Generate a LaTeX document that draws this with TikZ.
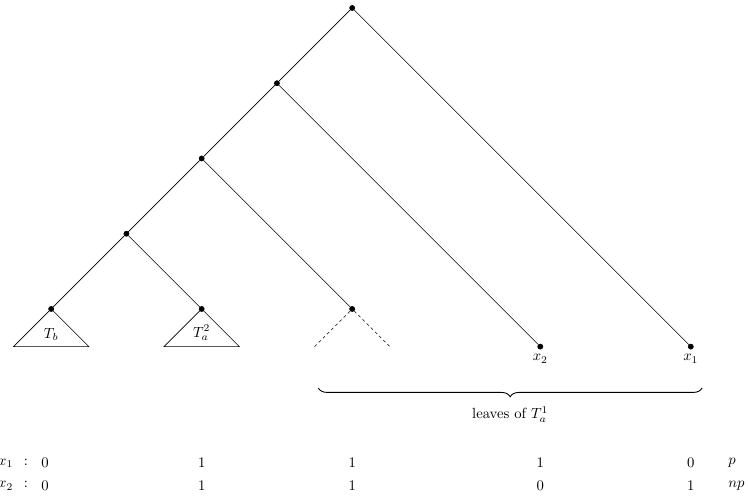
\documentclass[tikz,border=0pt]{standalone}
\usepackage{amsmath}
\usepackage{amssymb}
\usepackage{tikz}
\usetikzlibrary{positioning, decorations.pathreplacing}

\begin{document}
\begin{tikzpicture}[x=1.8cm, y=1.8cm,
    dot/.style={draw,circle,fill,inner sep=0pt,minimum size=3.5pt}]
  \useasboundingbox (-4.68,0.106) rectangle (5.26,-6.52);
  % spine of the tree
  \node[dot] (r0) at (0,0) {};
  \node[dot] (r1) at (-1,-1) {};
  \node[dot] (r2) at (-2,-2) {};
  \node[dot] (r3) at (-3,-3) {};
  \node[dot] (tb) at (-4,-4) {};
  \node[dot] (ta) at (-2,-4) {};
  \node[dot] (tc) at (0,-4) {};
  \node[dot] (x2) at (2.5,-4.5) {};
  \node[dot] (x1) at (4.5,-4.5) {};
  \node[below=0pt of x2] (x2lab) {$x_2$};
  \node[below=0pt of x1] (x1lab) {$x_1$};
  \draw (r0) -- (r1) -- (r2) -- (r3) -- (tb);
  \draw (r0) -- (x1);
  \draw (r1) -- (x2);
  \draw (r2) -- (tc);
  \draw (r3) -- (ta);
  % subtrees
  \coordinate (tbl) at (-4.5,-4.5);
  \coordinate (tbr) at (-3.5,-4.5);
  \coordinate (tal) at (-2.5,-4.5);
  \coordinate (tar) at (-1.5,-4.5);
  \coordinate (tcl) at (-0.5,-4.5);
  \coordinate (tcr) at (0.5,-4.5);
  \draw (tb) -- (tbl) -- (tbr) -- (tb);
  \draw (ta) -- (tal) -- (tar) -- (ta);
  \draw[dash pattern=on 2pt off 2pt] (tcl) -- (tc) -- (tcr);
  \node (tblab) at (-4,-4.34) {$T_b$};
  \node (talab) at (-2,-4.32) {$T_a^2$};
  % brace
  \coordinate (bl) at (-0.45,-5.05);
  \coordinate (br) at (4.65,-5.05);
  \draw[decorate, decoration={brace, mirror, amplitude=6pt}, semithick] (bl) -- (br);
  \node (leaves) at (2.1,-5.4) {leaves of $T_a^1$};
  % rows
  \node[anchor=east] (row1) at (-4.24,-6.05) {$x_1\;\,:$};
  \node[anchor=east] (row2) at (-4.24,-6.35) {$x_2\;\,:$};
  \node (a1) at (-4.08,-6.05) {$0$};
  \node (a2) at (-2,-6.05) {$1$};
  \node (a3) at (0,-6.05) {$1$};
  \node (a4) at (2.5,-6.05) {$1$};
  \node (a5) at (4.5,-6.05) {$0$};
  \node[anchor=west] (a6) at (4.93,-6.05) {$p$};
  \node (b1) at (-4.08,-6.35) {$0$};
  \node (b2) at (-2,-6.35) {$1$};
  \node (b3) at (0,-6.35) {$1$};
  \node (b4) at (2.5,-6.35) {$0$};
  \node (b5) at (4.5,-6.35) {$1$};
  \node[anchor=west] (b6) at (4.93,-6.35) {$np$};
\end{tikzpicture}
\end{document}
